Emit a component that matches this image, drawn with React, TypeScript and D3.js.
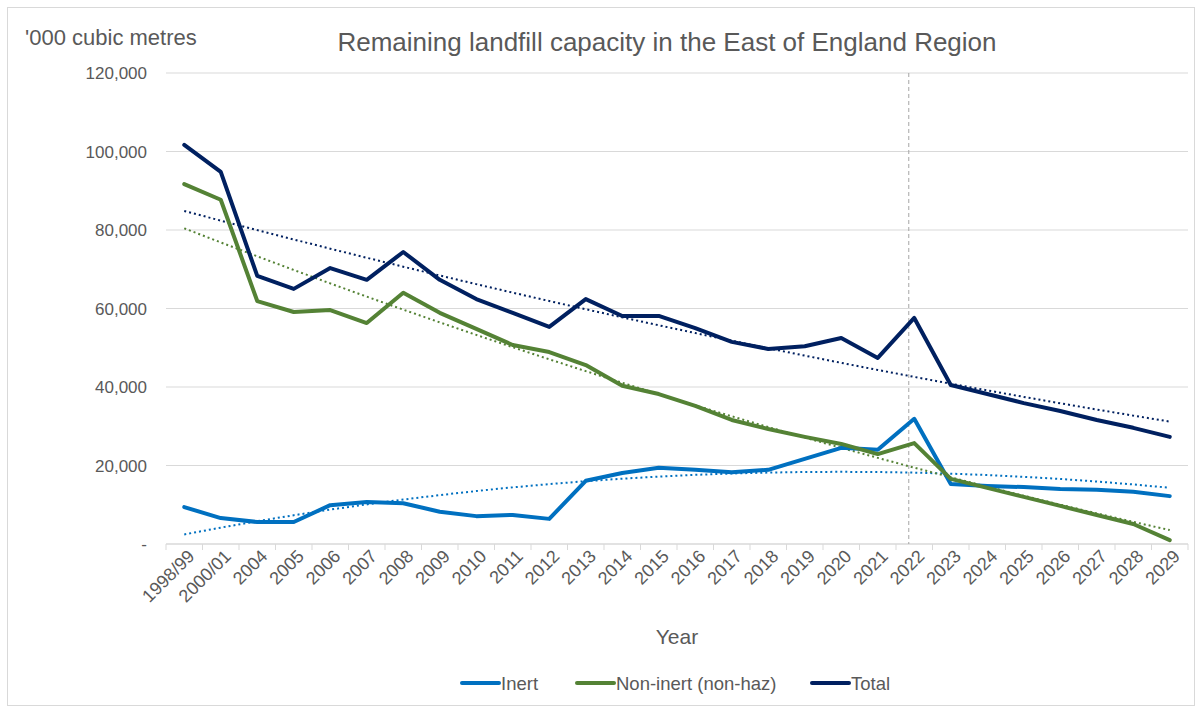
import * as d3 from "d3";

const categories = [
  "1998/99", "2000/01", "2004", "2005", "2006", "2007", "2008", "2009", "2010",
  "2011", "2012", "2013", "2014", "2015", "2016", "2017", "2018", "2019", "2020",
  "2021", "2022", "2023", "2024", "2025", "2026", "2027", "2028", "2029",
];

const inert = [
  9400, 6600, 5600, 5600, 9900, 10700, 10400, 8200, 7100, 7400, 6400, 16100,
  18100, 19400, 18900, 18300, 18900, 21700, 24500, 24000, 31900, 15300, 14800,
  14500, 14000, 13800, 13300, 12200,
];

const nonInert = [
  91700, 87700, 61900, 59100, 59600, 56300, 64000, 58900, 54800, 50700, 48900,
  45600, 40300, 38200, 35200, 31600, 29300, 27300, 25500, 22900, 25700, 16600,
  14300, 12000, 9700, 7400, 5100, 1000,
];

const total = [
  101700, 94800, 68300, 65000, 70300, 67300, 74400, 67300, 62400, 58900, 55300,
  62400, 58100, 58100, 55000, 51500, 49700, 50400, 52500, 47400, 57600, 40500,
  38200, 35900, 33900, 31600, 29600, 27300,
];

const yTicks = [0, 20000, 40000, 60000, 80000, 100000, 120000];
const markerYear = "2022";

const seriesList = [
  { name: "Inert", values: inert, color: "#0070c0" },
  { name: "Non-inert (non-haz)", values: nonInert, color: "#548235" },
  { name: "Total", values: total, color: "#002060" },
];

const W = 1202;
const H = 713;
const margin = { top: 73, right: 14, bottom: 169, left: 166 };
const font = "Arial, 'Liberation Sans', sans-serif";
const textColor = "#595959";
const legendX = [462, 577, 812];

// 2nd order polynomial trendline (least squares on x = 1..n, as in Excel)
function polyTrend(values: number[], order = 2) {
  const n = order + 1;
  const A = Array.from({ length: n }, () => new Array(n + 1).fill(0));
  values.forEach((v, i) => {
    const xi = i + 1;
    for (let r = 0; r < n; r++) {
      for (let c = 0; c < n; c++) A[r][c] += Math.pow(xi, r + c);
      A[r][n] += v * Math.pow(xi, r);
    }
  });
  for (let p = 0; p < n; p++) {
    let best = p;
    for (let r = p + 1; r < n; r++) if (Math.abs(A[r][p]) > Math.abs(A[best][p])) best = r;
    [A[p], A[best]] = [A[best], A[p]];
    for (let r = 0; r < n; r++) {
      if (r === p) continue;
      const f = A[r][p] / A[p][p];
      for (let c = p; c <= n; c++) A[r][c] -= f * A[p][c];
    }
  }
  const coef = A.map((row, i) => row[n] / row[i]);
  return values.map((_, i) => coef.reduce((s, c, k) => s + c * Math.pow(i + 1, k), 0));
}

export default function App() {
  const plotRight = W - margin.right;
  const plotBottom = H - margin.bottom;

  const x = d3.scaleBand().domain(categories).range([margin.left, plotRight]);
  const y = d3.scaleLinear().domain([0, 120000]).range([plotBottom, margin.top]);
  const cx = (c: string) => (x(c) ?? 0) + x.bandwidth() / 2;

  const line = d3
    .line<number>()
    .x((_, i) => cx(categories[i]))
    .y((d) => y(d));

  const fmt = d3.format(",");
  const markerX = cx(markerYear) - x.step() * 0.15;

  return (
    <svg
      width={W}
      height={H}
      style={{ position: "absolute", left: 0, top: 0, background: "#fff" }}
      fontFamily={font}
    >
      <rect x={7.5} y={7.5} width={W - 15} height={H - 15} fill="#fff" stroke="#d9d9d9" />

      <text x={25} y={45} fontSize={22} fill={textColor}>
        '000 cubic metres
      </text>
      <text x={667} y={51} fontSize={26} fill={textColor} textAnchor="middle">
        Remaining landfill capacity in the East of England Region
      </text>

      {yTicks.map((t) => (
        <g key={t}>
          {t > 0 && (
            <line
              x1={margin.left}
              x2={plotRight}
              y1={y(t)}
              y2={y(t)}
              stroke="#d9d9d9"
              strokeWidth={1}
            />
          )}
          <text x={147} y={y(t) + 6} fontSize={17} fill={textColor} textAnchor="end">
            {t === 0 ? "-" : fmt(t)}
          </text>
        </g>
      ))}

      <line
        x1={margin.left}
        x2={plotRight}
        y1={plotBottom}
        y2={plotBottom}
        stroke="#d9d9d9"
        strokeWidth={1.5}
      />
      {d3.range(categories.length + 1).map((i) => {
        const tx = margin.left + i * x.step();
        return (
          <line key={"t" + i} x1={tx} x2={tx} y1={plotBottom} y2={plotBottom + 6} stroke="#d9d9d9" />
        );
      })}
      {categories.map((c) => (
        <text
          key={c}
          transform={`translate(${cx(c) + 8},${plotBottom + 10}) rotate(-45)`}
          fontSize={18}
          fill={textColor}
          textAnchor="end"
          dominantBaseline="middle"
        >
          {c}
        </text>
      ))}

      <line
        x1={markerX}
        x2={markerX}
        y1={margin.top}
        y2={plotBottom}
        stroke="#a6a6a6"
        strokeWidth={1}
        strokeDasharray="4 3"
      />

      {seriesList.map((s) => (
        <path
          key={"trend" + s.name}
          d={line(polyTrend(s.values)) ?? ""}
          fill="none"
          stroke={s.color}
          strokeWidth={2}
          strokeDasharray="2 3"
        />
      ))}
      {seriesList.map((s) => (
        <path
          key={s.name}
          d={line(s.values) ?? ""}
          fill="none"
          stroke={s.color}
          strokeWidth={4}
          strokeLinejoin="round"
          strokeLinecap="round"
        />
      ))}

      <text x={677} y={644} fontSize={21} fill={textColor} textAnchor="middle">
        Year
      </text>

      {seriesList.map((s, i) => {
        const lx = legendX[i];
        return (
          <g key={"leg" + s.name}>
            <line
              x1={lx}
              x2={lx + 37}
              y1={683}
              y2={683}
              stroke={s.color}
              strokeWidth={4}
              strokeLinecap="round"
            />
            <text x={lx + 39} y={689.5} fontSize={18.5} fill={textColor}>
              {s.name}
            </text>
          </g>
        );
      })}
    </svg>
  );
}
